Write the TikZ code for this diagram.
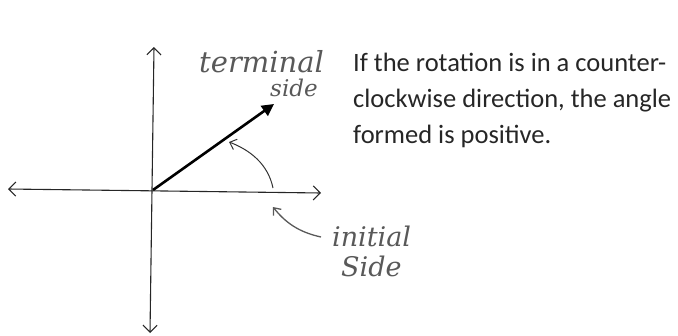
\documentclass[tikz,border=0pt]{standalone}
\usepackage{fontspec}
\setmainfont{Carlito}
\newfontfamily\handfont{DejaVu Serif}
\usetikzlibrary{arrows.meta}
\begin{document}
\begin{tikzpicture}[x=1pt,y=-1pt,
  axis/.style={line width=1.1pt, black!85, {Straight Barb[length=7pt,width=14pt]}-{Straight Barb[length=7pt,width=14pt]}},
  hand/.style={line width=1.3pt, black!65, -{Straight Barb[length=6pt,width=10pt]}},
  script/.style={font=\handfont\itshape, text=black!65, inner sep=0pt, anchor=base west}]
\useasboundingbox (0,0) rectangle (678,335);
\coordinate (O) at (153,190);
\coordinate (L) at (8,189);
\coordinate (R) at (321,193);
\coordinate (T) at (154,47);
\coordinate (B) at (150,333);
\coordinate (tip) at (274,104);
\coordinate (a1) at (273,188);
\coordinate (a2) at (229,142);
\coordinate (p1) at (321,237);
\coordinate (p2) at (273,207);
\draw[axis] (L) -- (R);
\draw[axis] (B) -- (T);
\draw[line width=2.6pt, -{Triangle[length=12pt,width=12pt]}] (O) -- (tip);
\draw[line width=1pt, black!80, -{Straight Barb[length=6pt,width=11pt]}] (a1) .. controls (268,164) and (250,150) .. (a2);
\draw[hand] (p1) .. controls (298,232) and (285,222) .. (p2);
\node[script, font=\handfont\itshape\fontsize{29}{29}\selectfont] (term) at (199,72) {terminal};
\node[script, font=\handfont\itshape\fontsize{23}{23}\selectfont] (side1) at (270,96) {side};
\node[script, font=\handfont\itshape\fontsize{27}{27}\selectfont] (init) at (332,246) {initial};
\node[script, font=\handfont\itshape\fontsize{27}{27}\selectfont] (side2) at (341,276) {Side};
\node[anchor=base west, inner sep=0pt, align=left, font=\fontsize{26.5}{36}\selectfont, text=black!85] (txt) at (353,143)
  {If the rotation is in a counter-\\clockwise direction, the angle\\formed is positive.};
\end{tikzpicture}
\end{document}
